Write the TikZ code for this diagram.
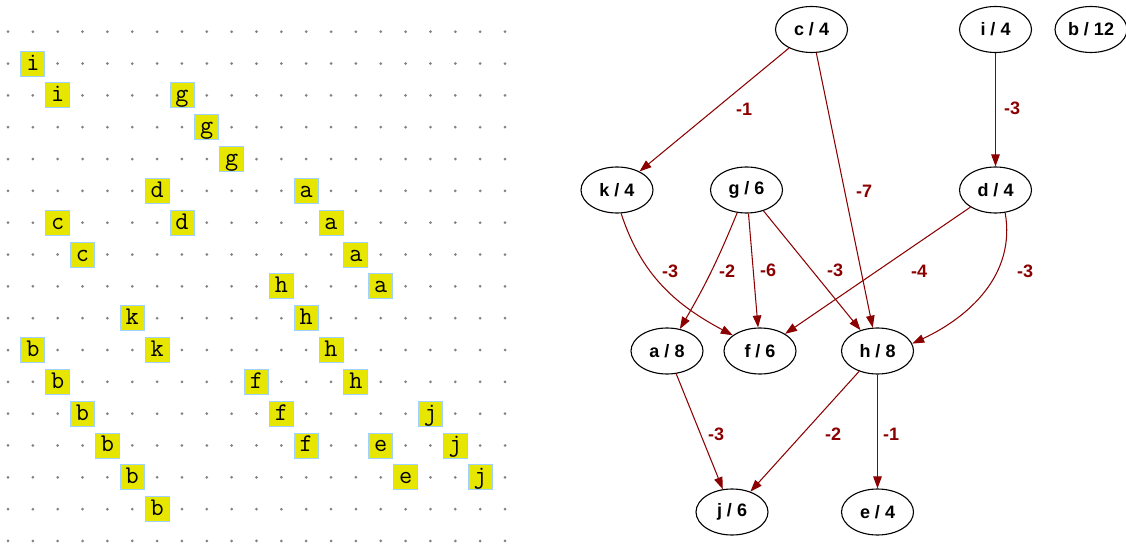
\documentclass[tikz,border=0pt]{standalone}
\usepackage{fontspec}
\newfontfamily\gvfont{Liberation Sans}
\usetikzlibrary{arrows.meta,shapes.geometric}
\definecolor{edgered}{RGB}{139,0,0}
\definecolor{boxyellow}{RGB}{230,230,0}
\definecolor{boxblue}{RGB}{160,210,255}
\definecolor{dotgray}{RGB}{130,130,130}
\tikzset{
  gdot/.style={circle,fill=dotgray,inner sep=0pt,minimum size=3pt},
  lbox/.style={draw=boxblue,line width=0.9pt,fill=boxyellow,inner sep=0pt,
    minimum width=24pt,minimum height=25pt,text height=19pt,text depth=6pt,
    font=\fontsize{25.5}{25.5}\selectfont\ttfamily},
  gnode/.style={ellipse,draw=black,line width=1.1pt,inner sep=0pt,
    minimum width=72pt,minimum height=46pt,font=\gvfont\bfseries\fontsize{18}{18}\selectfont},
  gedge/.style={draw=edgered,line width=1.05pt,-{Triangle[length=12pt,width=8.5pt]}},
  elabel/.style={text=edgered,font=\gvfont\bfseries\fontsize{18}{18}\selectfont,inner sep=0pt}
}
\begin{document}
\begin{tikzpicture}[x=1pt,y=1pt]
\useasboundingbox (0,0) rectangle (1126,544);
% dot grid
\foreach \k in {0,...,20}{
  \foreach \r in {0,...,16}{
    \node[gdot] at ({8+24.85*\k},{544-(31.7+31.83*\r)}) {};
  }
}
% letter boxes
\foreach \k/\r/\t [count=\n] in {
  1/1/i, 2/2/i, 7/2/g, 8/3/g, 9/4/g,
  6/5/d, 12/5/a, 2/6/c, 7/6/d, 13/6/a,
  3/7/c, 14/7/a, 11/8/h, 15/8/a, 5/9/k, 12/9/h,
  1/10/b, 6/10/k, 13/10/h, 2/11/b, 10/11/f, 14/11/h,
  3/12/b, 11/12/f, 17/12/j, 4/13/b, 12/13/f, 15/13/e, 18/13/j,
  5/14/b, 16/14/e, 19/14/j, 6/15/b}{
  \node[lbox] (L\n) at ({8+24.85*\k},{544-(31.7+31.83*\r)}) {\t};
}
% graph nodes
\node[gnode] (c) at (811.5,514.5) {c / 4};
\node[gnode] (i) at (995.5,514.5) {i / 4};
\node[gnode] (b) at (1091,514.5) {b / 12};
\node[gnode] (k) at (617,354) {k / 4};
\node[gnode] (g) at (746.5,354) {g / 6};
\node[gnode] (d) at (995.5,354) {d / 4};
\node[gnode] (a) at (667,193) {a / 8};
\node[gnode] (f) at (760,193) {f / 6};
\node[gnode] (h) at (877.5,193) {h / 8};
\node[gnode] (j) at (732,32) {j / 6};
\node[gnode] (e) at (877.5,32) {e / 4};
% edges
\draw[gedge] (c) -- (k);
\draw[gedge] (c) -- (h);
\draw[gedge] (i) -- (d);
\draw[gedge] (k.-80) to[out=-72,in=152] (f.150);
\draw[gedge] (g) to[bend left=4] (a);
\draw[gedge] (g) -- (f);
\draw[gedge] (g) -- (h);
\draw[gedge] (d) -- (f);
\draw[gedge] (d.-67) to[out=-80,in=25] (h.12);
\draw[gedge] (a) -- (j);
\draw[gedge] (h) -- (j);
\draw[gedge] (h) -- (e);
% edge labels
\node[elabel] (l1) at (744,435) {-1};
\node[elabel] (l2) at (864,353) {-7};
\node[elabel] (l3) at (1012,436) {-3};
\node[elabel] (l4) at (670,273) {-3};
\node[elabel] (l5) at (727,273) {-2};
\node[elabel] (l6) at (768,274) {-6};
\node[elabel] (l7) at (835,274) {-3};
\node[elabel] (l8) at (919,273) {-4};
\node[elabel] (l9) at (1025,273) {-3};
\node[elabel] (l10) at (716,110) {-3};
\node[elabel] (l11) at (833,110) {-2};
\node[elabel] (l12) at (891,110) {-1};
\end{tikzpicture}
\end{document}
